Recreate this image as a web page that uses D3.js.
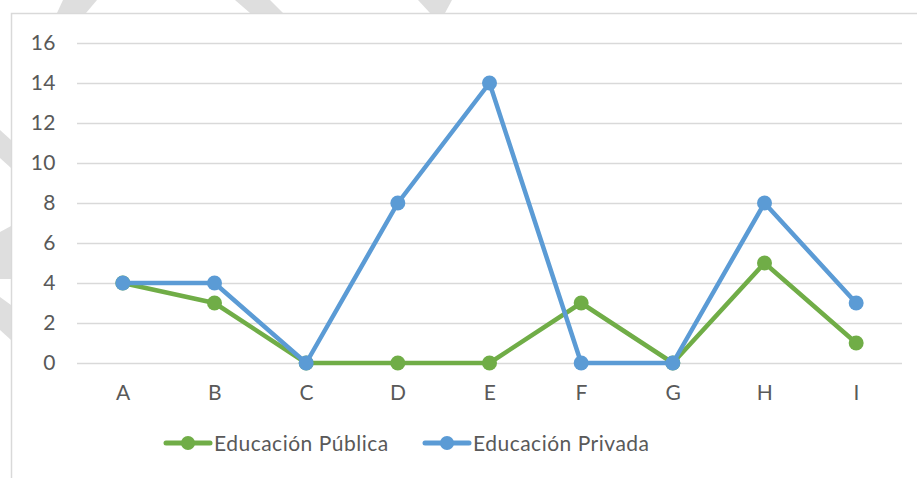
<!DOCTYPE html>
<html>
<head>
<meta charset="utf-8">
<script src="https://cdn.jsdelivr.net/npm/d3@7"></script>
<style>
    body { margin: 0; background: #fff; }
    .axis text { font-family: Lato, "Open Sans", sans-serif; font-size: 21px; letter-spacing: 0.5px; fill: #595959; }
    .legend text { font-family: Lato, "Open Sans", sans-serif; font-size: 21px; letter-spacing: 0.5px; fill: #595959; }
</style>
</head>
<body>
<div id="root"></div>
<script>
"use strict";

// Data
const categories = ["A", "B", "C", "D", "E", "F", "G", "H", "I"];
const publica = [4, 3, 0, 0, 0, 3, 0, 5, 1];
const privada = [4, 4, 0, 8, 14, 0, 0, 8, 3];
const yTicks = [0, 2, 4, 6, 8, 10, 12, 14, 16];
const seriesNames = ["Educación Pública", "Educación Privada"];
const seriesColors = ["#70AD47", "#5B9BD5"];

const width = 917;
const height = 478;

const plot = { left: 77, right: 902, top: 43, bottom: 363 };

let svg = d3.select('#root')
    .append('svg')
    .attr('width', width)
    .attr('height', height);

// faint watermark pieces visible outside the chart area
const marks = [
    [[63, 0], [97, 0], [86, 13], [57, 13]],
    [[235, 0], [270, 0], [283, 13], [250, 13]],
    [[418, 0], [452, 0], [445, 13], [430, 13]],
    [[0, 130], [11, 140], [11, 168], [0, 158]],
    [[0, 232], [11, 226], [11, 279], [0, 279]],
    [[0, 297], [11, 305], [11, 340], [0, 330]]
];
svg.selectAll('polygon.wm').data(marks).enter().append('polygon')
    .attr('class', 'wm')
    .attr('points', (d) => d.map((p) => p.join(',')).join(' '))
    .attr('fill', '#dedede');

// chart area border (top and left visible)
svg.append('rect')
    .attr('x', 11.5)
    .attr('y', 13.5)
    .attr('width', width + 10)
    .attr('height', height + 10)
    .attr('fill', '#fff')
    .attr('stroke', '#d9d9d9')
    .attr('stroke-width', 1.5);

// scales
let xScale = d3.scalePoint()
    .domain(categories)
    .range([plot.left, plot.right])
    .padding(0.5);

let yScale = d3.scaleLinear()
    .domain([0, 16])
    .range([plot.bottom, plot.top]);

// gridlines
let grid = svg.append('g')
    .attr('transform', `translate(${plot.left},0)`)
    .call(d3.axisLeft(yScale).tickValues(yTicks).tickSize(-(plot.right - plot.left)).tickFormat(''));
grid.select('.domain').remove();
grid.selectAll('line').attr('stroke', '#d9d9d9').attr('stroke-width', 1.5);

// y axis labels
let yAxis = svg.append('g')
    .attr('class', 'axis')
    .attr('transform', `translate(${plot.left},0)`)
    .call(d3.axisLeft(yScale).tickValues(yTicks).tickSize(0).tickPadding(21));
yAxis.select('.domain').remove();
yAxis.selectAll('text').attr('font-family', null).attr('font-size', null).attr('fill', null);

// x axis labels
let xAxis = svg.append('g')
    .attr('class', 'axis')
    .attr('transform', `translate(0,${plot.bottom})`)
    .call(d3.axisBottom(xScale).tickSize(0).tickPadding(22));
xAxis.select('.domain').remove();
xAxis.selectAll('text').attr('font-family', null).attr('font-size', null).attr('fill', null);

// lines and markers
const series = [publica, privada];
let line = d3.line()
    .x((d, i) => xScale(categories[i]))
    .y((d) => yScale(d));

series.forEach((values, s) => {
    svg.append('path')
        .datum(values)
        .attr('d', line)
        .attr('fill', 'none')
        .attr('stroke', seriesColors[s])
        .attr('stroke-width', 4.5)
        .attr('stroke-linejoin', 'round')
        .attr('stroke-linecap', 'round');

    svg.selectAll('circle.s' + s).data(values).enter().append('circle')
        .attr('class', 's' + s)
        .attr('cx', (d, i) => xScale(categories[i]))
        .attr('cy', (d) => yScale(d))
        .attr('r', 7.5)
        .attr('fill', seriesColors[s]);
});

// legend
const legendX = [166, 425];
let legend = svg.append('g').attr('class', 'legend');
seriesNames.forEach((name, s) => {
    let g = legend.append('g').attr('transform', `translate(${legendX[s]},443)`);
    g.append('line')
        .attr('x1', 0).attr('x2', 44)
        .attr('stroke', seriesColors[s])
        .attr('stroke-width', 5)
        .attr('stroke-linecap', 'round');
    g.append('circle').attr('cx', 22).attr('r', 7).attr('fill', seriesColors[s]);
    g.append('text')
        .attr('x', 48)
        .attr('dy', '0.36em')
        .text(name);
});
</script>
</body>
</html>
